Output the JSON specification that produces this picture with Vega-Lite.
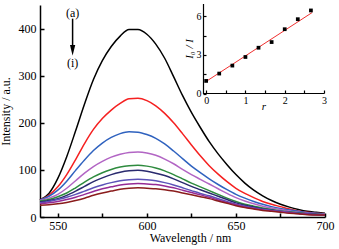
{
"$schema":"https://vega.github.io/schema/vega-lite/v6.json",
"width":285,"height":212,
"autosize":"none",
"padding":{"left":40,"top":5,"right":14,"bottom":32},
"config":{"view":{"stroke":null},"font":"Liberation Serif",
 "text":{"font":"Liberation Serif"},
 "axis":{"domainColor":"#000","domainWidth":1.5,"tickColor":"#000","tickWidth":1.5,"labelColor":"#000","titleColor":"#000","labelFont":"Liberation Serif","titleFont":"Liberation Serif","titleFontWeight":"normal","grid":false}},
"datasets":{
"spec":[
{"s":"a","w":540,"v":36},{"s":"a","w":545,"v":50},{"s":"a","w":550,"v":82},{"s":"a","w":555,"v":128},{"s":"a","w":560,"v":183},{"s":"a","w":565,"v":240},{"s":"a","w":570,"v":292},{"s":"a","w":575,"v":332},{"s":"a","w":580,"v":362},{"s":"a","w":585,"v":384},{"s":"a","w":590,"v":398},{"s":"a","w":595,"v":398},{"s":"a","w":600,"v":388},{"s":"a","w":605,"v":367},{"s":"a","w":610,"v":337},{"s":"a","w":615,"v":298},{"s":"a","w":620,"v":258},{"s":"a","w":625,"v":222},{"s":"a","w":630,"v":190},{"s":"a","w":635,"v":160},{"s":"a","w":640,"v":134},{"s":"a","w":645,"v":111},{"s":"a","w":650,"v":90},{"s":"a","w":655,"v":72},{"s":"a","w":660,"v":57},{"s":"a","w":665,"v":45},{"s":"a","w":670,"v":35},{"s":"a","w":675,"v":27},{"s":"a","w":680,"v":21},{"s":"a","w":685,"v":16},{"s":"a","w":690,"v":12},{"s":"a","w":695,"v":10},{"s":"a","w":700,"v":8},
{"s":"b","w":540,"v":36},{"s":"b","w":545,"v":46},{"s":"b","w":550,"v":64},{"s":"b","w":555,"v":90},{"s":"b","w":560,"v":122},{"s":"b","w":565,"v":156},{"s":"b","w":570,"v":186},{"s":"b","w":575,"v":209},{"s":"b","w":580,"v":227},{"s":"b","w":585,"v":241},{"s":"b","w":590,"v":251},{"s":"b","w":595,"v":252},{"s":"b","w":600,"v":247},{"s":"b","w":605,"v":236},{"s":"b","w":610,"v":220},{"s":"b","w":615,"v":200},{"s":"b","w":620,"v":177},{"s":"b","w":625,"v":153},{"s":"b","w":630,"v":130},{"s":"b","w":635,"v":109},{"s":"b","w":640,"v":91},{"s":"b","w":645,"v":75},{"s":"b","w":650,"v":61},{"s":"b","w":655,"v":50},{"s":"b","w":660,"v":41},{"s":"b","w":665,"v":33},{"s":"b","w":670,"v":27},{"s":"b","w":675,"v":22},{"s":"b","w":680,"v":17},{"s":"b","w":685,"v":13},{"s":"b","w":690,"v":10},{"s":"b","w":695,"v":8},{"s":"b","w":700,"v":7},
{"s":"c","w":540,"v":36},{"s":"c","w":545,"v":44},{"s":"c","w":550,"v":57},{"s":"c","w":555,"v":76},{"s":"c","w":560,"v":99},{"s":"c","w":565,"v":121},{"s":"c","w":570,"v":141},{"s":"c","w":575,"v":157},{"s":"c","w":580,"v":169},{"s":"c","w":585,"v":177},{"s":"c","w":590,"v":181},{"s":"c","w":595,"v":180},{"s":"c","w":600,"v":175},{"s":"c","w":605,"v":167},{"s":"c","w":610,"v":155},{"s":"c","w":615,"v":140},{"s":"c","w":620,"v":124},{"s":"c","w":625,"v":108},{"s":"c","w":630,"v":94},{"s":"c","w":635,"v":81},{"s":"c","w":640,"v":69},{"s":"c","w":645,"v":58},{"s":"c","w":650,"v":48},{"s":"c","w":655,"v":40},{"s":"c","w":660,"v":33},{"s":"c","w":665,"v":27},{"s":"c","w":670,"v":22},{"s":"c","w":675,"v":18},{"s":"c","w":680,"v":15},{"s":"c","w":685,"v":12},{"s":"c","w":690,"v":9},{"s":"c","w":695,"v":8},{"s":"c","w":700,"v":6},
{"s":"d","w":540,"v":35},{"s":"d","w":545,"v":40},{"s":"d","w":550,"v":48},{"s":"d","w":555,"v":61},{"s":"d","w":560,"v":77},{"s":"d","w":565,"v":93},{"s":"d","w":570,"v":107},{"s":"d","w":575,"v":118},{"s":"d","w":580,"v":127},{"s":"d","w":585,"v":133},{"s":"d","w":590,"v":137},{"s":"d","w":595,"v":138},{"s":"d","w":600,"v":136},{"s":"d","w":605,"v":131},{"s":"d","w":610,"v":123},{"s":"d","w":615,"v":113},{"s":"d","w":620,"v":101},{"s":"d","w":625,"v":90},{"s":"d","w":630,"v":80},{"s":"d","w":635,"v":70},{"s":"d","w":640,"v":60},{"s":"d","w":645,"v":50},{"s":"d","w":650,"v":41},{"s":"d","w":655,"v":34},{"s":"d","w":660,"v":28},{"s":"d","w":665,"v":23},{"s":"d","w":670,"v":19},{"s":"d","w":675,"v":16},{"s":"d","w":680,"v":13},{"s":"d","w":685,"v":10},{"s":"d","w":690,"v":8},{"s":"d","w":695,"v":7},{"s":"d","w":700,"v":6},
{"s":"e","w":540,"v":34},{"s":"e","w":545,"v":37},{"s":"e","w":550,"v":43},{"s":"e","w":555,"v":51},{"s":"e","w":560,"v":62},{"s":"e","w":565,"v":74},{"s":"e","w":570,"v":85},{"s":"e","w":575,"v":94},{"s":"e","w":580,"v":101},{"s":"e","w":585,"v":106},{"s":"e","w":590,"v":109},{"s":"e","w":595,"v":110},{"s":"e","w":600,"v":108},{"s":"e","w":605,"v":104},{"s":"e","w":610,"v":98},{"s":"e","w":615,"v":90},{"s":"e","w":620,"v":81},{"s":"e","w":625,"v":72},{"s":"e","w":630,"v":64},{"s":"e","w":635,"v":56},{"s":"e","w":640,"v":48},{"s":"e","w":645,"v":40},{"s":"e","w":650,"v":33},{"s":"e","w":655,"v":27},{"s":"e","w":660,"v":23},{"s":"e","w":665,"v":19},{"s":"e","w":670,"v":16},{"s":"e","w":675,"v":13},{"s":"e","w":680,"v":11},{"s":"e","w":685,"v":9},{"s":"e","w":690,"v":7},{"s":"e","w":695,"v":6},{"s":"e","w":700,"v":5},
{"s":"f","w":540,"v":32},{"s":"f","w":545,"v":35},{"s":"f","w":550,"v":39},{"s":"f","w":555,"v":46},{"s":"f","w":560,"v":55},{"s":"f","w":565,"v":65},{"s":"f","w":570,"v":75},{"s":"f","w":575,"v":83},{"s":"f","w":580,"v":90},{"s":"f","w":585,"v":95},{"s":"f","w":590,"v":98},{"s":"f","w":595,"v":99},{"s":"f","w":600,"v":97},{"s":"f","w":605,"v":93},{"s":"f","w":610,"v":88},{"s":"f","w":615,"v":81},{"s":"f","w":620,"v":73},{"s":"f","w":625,"v":65},{"s":"f","w":630,"v":58},{"s":"f","w":635,"v":51},{"s":"f","w":640,"v":44},{"s":"f","w":645,"v":37},{"s":"f","w":650,"v":30},{"s":"f","w":655,"v":25},{"s":"f","w":660,"v":21},{"s":"f","w":665,"v":17},{"s":"f","w":670,"v":15},{"s":"f","w":675,"v":12},{"s":"f","w":680,"v":10},{"s":"f","w":685,"v":8},{"s":"f","w":690,"v":7},{"s":"f","w":695,"v":6},{"s":"f","w":700,"v":5},
{"s":"g","w":540,"v":30},{"s":"g","w":545,"v":33},{"s":"g","w":550,"v":37},{"s":"g","w":555,"v":42},{"s":"g","w":560,"v":48},{"s":"g","w":565,"v":55},{"s":"g","w":570,"v":62},{"s":"g","w":575,"v":68},{"s":"g","w":580,"v":73},{"s":"g","w":585,"v":77},{"s":"g","w":590,"v":79},{"s":"g","w":595,"v":80},{"s":"g","w":600,"v":79},{"s":"g","w":605,"v":77},{"s":"g","w":610,"v":73},{"s":"g","w":615,"v":68},{"s":"g","w":620,"v":62},{"s":"g","w":625,"v":56},{"s":"g","w":630,"v":50},{"s":"g","w":635,"v":45},{"s":"g","w":640,"v":39},{"s":"g","w":645,"v":33},{"s":"g","w":650,"v":27},{"s":"g","w":655,"v":23},{"s":"g","w":660,"v":19},{"s":"g","w":665,"v":16},{"s":"g","w":670,"v":14},{"s":"g","w":675,"v":12},{"s":"g","w":680,"v":10},{"s":"g","w":685,"v":8},{"s":"g","w":690,"v":6},{"s":"g","w":695,"v":5},{"s":"g","w":700,"v":5},
{"s":"h","w":540,"v":28},{"s":"h","w":545,"v":30},{"s":"h","w":550,"v":33},{"s":"h","w":555,"v":37},{"s":"h","w":560,"v":42},{"s":"h","w":565,"v":48},{"s":"h","w":570,"v":54},{"s":"h","w":575,"v":60},{"s":"h","w":580,"v":64},{"s":"h","w":585,"v":68},{"s":"h","w":590,"v":70},{"s":"h","w":595,"v":71},{"s":"h","w":600,"v":70},{"s":"h","w":605,"v":69},{"s":"h","w":610,"v":66},{"s":"h","w":615,"v":62},{"s":"h","w":620,"v":57},{"s":"h","w":625,"v":52},{"s":"h","w":630,"v":47},{"s":"h","w":635,"v":42},{"s":"h","w":640,"v":36},{"s":"h","w":645,"v":31},{"s":"h","w":650,"v":26},{"s":"h","w":655,"v":21},{"s":"h","w":660,"v":18},{"s":"h","w":665,"v":15},{"s":"h","w":670,"v":13},{"s":"h","w":675,"v":11},{"s":"h","w":680,"v":9},{"s":"h","w":685,"v":7},{"s":"h","w":690,"v":6},{"s":"h","w":695,"v":5},{"s":"h","w":700,"v":4},
{"s":"i","w":540,"v":25},{"s":"i","w":545,"v":26},{"s":"i","w":550,"v":28},{"s":"i","w":555,"v":31},{"s":"i","w":560,"v":35},{"s":"i","w":565,"v":40},{"s":"i","w":570,"v":46},{"s":"i","w":575,"v":51},{"s":"i","w":580,"v":55},{"s":"i","w":585,"v":59},{"s":"i","w":590,"v":61},{"s":"i","w":595,"v":62},{"s":"i","w":600,"v":61},{"s":"i","w":605,"v":60},{"s":"i","w":610,"v":58},{"s":"i","w":615,"v":55},{"s":"i","w":620,"v":51},{"s":"i","w":625,"v":47},{"s":"i","w":630,"v":43},{"s":"i","w":635,"v":39},{"s":"i","w":640,"v":34},{"s":"i","w":645,"v":29},{"s":"i","w":650,"v":24},{"s":"i","w":655,"v":20},{"s":"i","w":660,"v":17},{"s":"i","w":665,"v":14},{"s":"i","w":670,"v":12},{"s":"i","w":675,"v":10},{"s":"i","w":680,"v":8},{"s":"i","w":685,"v":7},{"s":"i","w":690,"v":5},{"s":"i","w":695,"v":4},{"s":"i","w":700,"v":4}
],
"labels":[{"w":558.3,"v":434,"t":"(a)"},{"w":558.3,"v":326,"t":"(i)"}],
"arrow":[{"w":558.3,"v":421,"v2":360}],
"head":[{"w":558.3,"v":354}],
"pts":[{"r":0,"q":0.98},{"r":0.333,"q":1.55},{"r":0.667,"q":2.17},{"r":1,"q":2.84},{"r":1.333,"q":3.56},{"r":1.667,"q":4.0},{"r":2,"q":5.0},{"r":2.333,"q":5.78},{"r":2.667,"q":6.46}],
"fit":[{"r":-0.02,"q":0.9},{"r":2.7,"q":6.3}]
},
"layer":[
 {"layer":[
  {"data":{"name":"spec"},"mark":{"type":"line","interpolate":"monotone","strokeWidth":1.5},
   "encoding":{
    "x":{"field":"w","type":"quantitative","scale":{"domain":[540,700],"nice":false,"zero":false},
      "axis":{"title":"Wavelength / nm","values":[550,575,600,625,650,675,700],"labelExpr":"datum.value % 50 === 0 ? format(datum.value, 'd') : ''","tickSize":-4,"labelPadding":7,"labelFont":"Liberation Serif","titleFont":"Liberation Serif","labelFontSize":12,"titleFontSize":12,"titlePadding":1,"titleX":150,"labelFlush":false}},
    "y":{"field":"v","type":"quantitative","scale":{"domain":[0,450],"nice":false},
      "axis":{"title":"Intensity / a.u.","values":[0,50,100,150,200,250,300,350,400,450],"labelExpr":"datum.value % 100 === 0 ? format(datum.value, 'd') : ''","tickSize":-4,"labelPadding":8,"labelFont":"Liberation Serif","titleFont":"Liberation Serif","labelFontSize":12,"titleFontSize":12,"titlePadding":6,"labelFlush":false}},
    "color":{"field":"s","type":"nominal","legend":null,"scale":{"domain":["a","b","c","d","e","f","g","h","i"],"range":["#000000","#f52020","#2f62bf","#b265c4","#2e8b3e","#2a2a6e","#5c52b8","#952a95","#8a1c1c"]}}}},
  {"data":{"name":"labels"},"mark":{"type":"text","fontSize":12,"font":"Liberation Serif","color":"#000"},
   "encoding":{"x":{"field":"w","type":"quantitative"},"y":{"field":"v","type":"quantitative"},"text":{"field":"t"}}},
  {"data":{"name":"arrow"},"mark":{"type":"rule","color":"#000","strokeWidth":1.5},
   "encoding":{"x":{"field":"w","type":"quantitative"},"y":{"field":"v","type":"quantitative"},"y2":{"field":"v2"}}},
  {"data":{"name":"head"},"mark":{"type":"point","shape":"M-0.5,-1L0.5,-1L0,1Z","filled":true,"color":"#000","size":110,"opacity":1},
   "encoding":{"x":{"field":"w","type":"quantitative"},"y":{"field":"v","type":"quantitative"}}}
 ]},
 {"layer":[
  {"data":{"name":"fit"},"mark":{"type":"line","color":"#f03030","strokeWidth":1},
   "encoding":{
    "x":{"field":"r","type":"quantitative","scale":{"domain":[-0.08,3],"nice":false,"zero":false,"range":[163,284]},
      "axis":{"orient":"bottom","offset":-124,"title":"r","titleFontStyle":"italic","values":[0,0.5,1,1.5,2,2.5,3],"labelExpr":"datum.value % 1 === 0 ? format(datum.value, 'd') : ''","tickSize":-3,"labelPadding":5,"labelFont":"Liberation Serif","titleFont":"Liberation Serif","labelFontSize":10,"titleFontSize":11,"titleBaseline":"middle","titleY":13,"labelFlush":false,"domainWidth":1.2,"tickWidth":1.2}},
    "y":{"field":"q","type":"quantitative","scale":{"domain":[0,7],"nice":false,"range":[88.5,-1.5]},
      "axis":{"orient":"left","offset":-163,"title":"I₀ / I","titleFontStyle":"italic","values":[0,1.5,3,4.5,6],"labelExpr":"datum.value % 3 === 0 ? format(datum.value, 'd') : ''","tickSize":-3,"labelPadding":5,"labelFont":"Liberation Serif","titleFont":"Liberation Serif","labelFontSize":10,"titleFontSize":11,"titlePadding":2,"labelFlush":false,"domainWidth":1.2,"tickWidth":1.2}}}},
  {"data":{"name":"pts"},"mark":{"type":"square","color":"#000","size":14,"opacity":1},
   "encoding":{"x":{"field":"r","type":"quantitative"},"y":{"field":"q","type":"quantitative"}}}
 ]}
],
"resolve":{"scale":{"x":"independent","y":"independent"},"axis":{"x":"independent","y":"independent"}}
}
